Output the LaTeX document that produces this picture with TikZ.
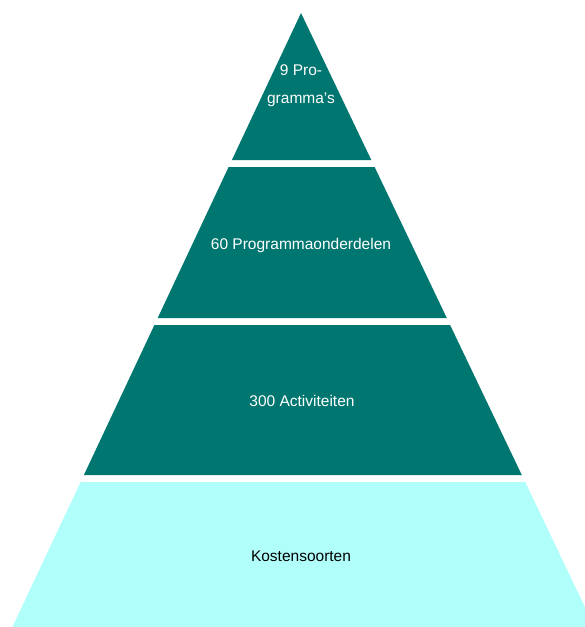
\documentclass[tikz,border=0pt]{standalone}
\usepackage{fontspec}
\setmainfont{Liberation Sans}
\usepackage{xcolor}
\usepackage{tikz}

\definecolor{pyrdark}{RGB}{0,118,112}
\definecolor{pyrlight}{RGB}{176,255,250}

\tikzset{
  darklayer/.style={fill=pyrdark, draw=none},
  lightlayer/.style={fill=pyrlight, draw=none},
  lbl/.style={font=\fontsize{15.5}{28}\selectfont, align=center, inner sep=0pt},
}

\begin{document}
\begin{tikzpicture}[x=1pt,y=-1pt]
    \useasboundingbox (0,0) rectangle (585,627);
    \clip (0,0) rectangle (585,627);

    % top
    \fill [darklayer] (301,13) -- (371.3,160) -- (231.9,160) -- cycle;
    % 2
    \fill [darklayer] (228.6,167) -- (374.6,167) -- (446.8,318) -- (157.7,318) -- cycle;
    % 3
    \fill [darklayer] (154.4,325) -- (450.1,325) -- (521.8,475) -- (83.9,475) -- cycle;
    % base
    \fill [lightlayer] (80.6,482) -- (525.2,482) -- (594.5,627) -- (12.4,627) -- cycle;

    % label
    \node [lbl, text=white] (programmas) at (301,86) {9 Pro-\\gramma's};
    \node [lbl, text=white] (onderdelen) at (301,245) {60 Programmaonderdelen};
    \node [lbl, text=white] (activiteiten) at (302,401) {300 Activiteiten};
    \node [lbl, text=black] (kosten) at (301,556) {Kostensoorten};
\end{tikzpicture}
\end{document}
